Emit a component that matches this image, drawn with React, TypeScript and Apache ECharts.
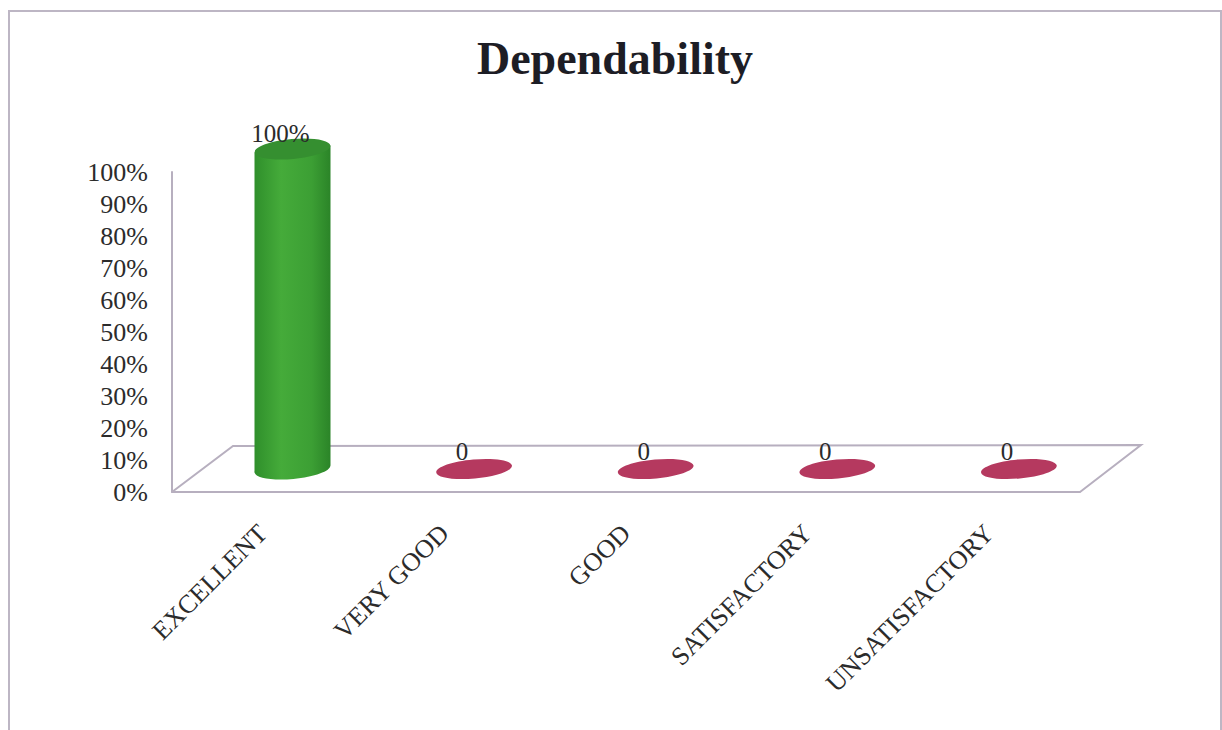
import React, { useEffect, useRef } from "react";
import * as echarts from "echarts";

const titleText = "Dependability";
const categories = ["EXCELLENT", "VERY GOOD", "GOOD", "SATISFACTORY", "UNSATISFACTORY"];
const values = [100, 0, 0, 0, 0];
const valueLabels = ["100%", "0", "0", "0", "0"];

const SERIF = '"Liberation Serif", serif';
const LINE = "#b7afbf";
const DEPTH_X = 29.7;
const DEPTH_Y = -23;
const RX = 38;
const RY = 10;
const TILT = 0.09;
const SKEW = RX * Math.sin(TILT);

function renderCylinder(params: any, api: any) {
  const idx = api.value(0);
  const v = api.value(1);
  const base = api.coord([idx, 0]);
  const top = api.coord([idx, v]);
  const cx = base[0] + DEPTH_X;
  const by = base[1] + DEPTH_Y;
  const ty = top[1] + DEPTH_Y;
  const children: any[] = [];
  if (v > 0) {
    const body = new echarts.graphic.LinearGradient(0, 0, 1, 0, [
      { offset: 0, color: "#2f8f2b" },
      { offset: 0.35, color: "#45ab3a" },
      { offset: 0.75, color: "#3c9f34" },
      { offset: 1, color: "#2b8428" },
    ]);
    children.push({
      type: "ellipse",
      x: cx,
      y: by,
      rotation: TILT,
      shape: { cx: 0, cy: 0, rx: RX, ry: RY },
      style: { fill: body },
    });
    children.push({
      type: "polygon",
      shape: {
        points: [
          [cx - RX, ty + SKEW],
          [cx + RX, ty - SKEW],
          [cx + RX, by - SKEW],
          [cx - RX, by + SKEW],
        ],
      },
      style: { fill: body },
    });
    children.push({
      type: "ellipse",
      x: cx,
      y: ty,
      rotation: TILT,
      shape: { cx: 0, cy: 0, rx: RX, ry: RY },
      style: { fill: "#358f30" },
    });
  } else {
    children.push({
      type: "ellipse",
      x: cx,
      y: by,
      rotation: TILT,
      shape: { cx: 0, cy: 0, rx: RX, ry: RY - 0.5 },
      style: { fill: "#b5395f" },
    });
  }
  children.push({
    type: "text",
    x: cx - 12,
    y: ty - (v > 0 ? 16 : 18),
    style: {
      text: valueLabels[idx],
      fill: "#2b2b2b",
      font: `25px ${SERIF}`,
      align: "center",
      verticalAlign: "middle",
    },
  });
  return { type: "group", children };
}

export default function App() {
  const ref = useRef<HTMLDivElement>(null);
  useEffect(() => {
    const chart = echarts.init(ref.current!, null, { renderer: "svg" });
    chart.setOption({
      animation: false,
      backgroundColor: "#ffffff",
      title: {
        text: titleText,
        left: 610,
        top: 30,
        textAlign: "center",
        textStyle: { fontFamily: SERIF, fontSize: 46, fontWeight: "bold", color: "#1d1d25" },
      },
      grid: { left: 172, right: 142, top: 172, bottom: 238 },
      xAxis: {
        type: "category",
        data: categories,
        axisTick: { show: false },
        axisLine: { lineStyle: { color: LINE, width: 2 } },
        axisLabel: {
          interval: 0,
          rotate: 45,
          margin: 37,
          fontFamily: SERIF,
          fontSize: 26,
          color: "#2b2b2b",
        },
      },
      yAxis: {
        type: "value",
        min: 0,
        max: 100,
        interval: 10,
        splitLine: { show: false },
        axisTick: { show: false },
        axisLine: { show: true, lineStyle: { color: LINE, width: 2 } },
        axisLabel: {
          formatter: "{value}%",
          margin: 24,
          fontFamily: SERIF,
          fontSize: 26,
          color: "#2b2b2b",
        },
      },
      graphic: [
        {
          type: "polyline",
          silent: true,
          shape: { points: [[9, 730], [9, 11], [1221, 11], [1221, 730]] },
          style: { fill: "none", stroke: "#bdb6c4", lineWidth: 2 },
        },
        {
          type: "polyline",
          silent: true,
          shape: { points: [[172, 492], [233, 446], [1141, 445], [1080, 492]] },
          style: { fill: "none", stroke: LINE, lineWidth: 2 },
        },
      ],
      series: [
        {
          type: "custom",
          clip: false,
          z: 5,
          data: values.map((v, i) => [i, v]),
          renderItem: renderCylinder,
        },
      ],
    });
    return () => chart.dispose();
  }, []);
  return <div ref={ref} style={{ position: "fixed", left: 0, top: 0, width: 1222, height: 730 }} />;
}
